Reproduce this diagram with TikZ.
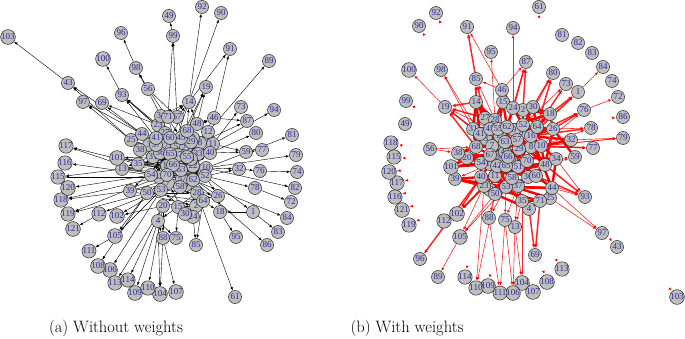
\documentclass[tikz,border=0pt]{standalone}
\usepackage{fontspec}
\newfontfamily\vtxfont{Liberation Serif}
\usetikzlibrary{arrows.meta,backgrounds}
\definecolor{vfill}{HTML}{BEBEBE}
\definecolor{vtext}{HTML}{2B2BA0}
\definecolor{wred}{HTML}{FF0000}
\tikzset{>=Latex,
  vtx/.style={circle,draw=black!85,line width=.5pt,fill=vfill,inner sep=0pt,
    minimum size=13pt,text=vtext,font=\vtxfont\fontsize{9}{9}\selectfont},
  arcA/.style={draw=black,line width=.4pt,-{Latex[length=3.5pt,width=2.6pt]}},
  arcB/.style={draw=wred,draw opacity=.85,line width=.6pt,-{Latex[length=3.5pt,width=2.8pt]}},
  heavyB/.style={arcB,line width=1.5pt,-{Latex[length=4pt,width=3.8pt]}},
  meshB/.style={draw=wred,line width=2.4pt},
  loopmark/.style={draw=wred,line width=.6pt,-{Latex[length=3pt,width=3pt]},shorten >=1pt},
  caption/.style={font=\fontsize{16.5}{19}\selectfont}}

\begin{document}
\begin{tikzpicture}[x=1pt,y=-1pt]
\path[use as bounding box] (0,0) rectangle (685,339);
% (a) unweighted graph
\foreach \n/\x/\y in {1/253/212, 2/196/206, 3/149/145, 4/158/221, 5/176/147, 6/186/185,
  7/168/183, 8/200/143, 9/193/138, 10/206/168, 11/213/144, 12/208/132, 13/122/169,
  14/189/102, 15/178/207, 16/167/166, 17/164/146, 18/220/212, 19/206/87, 20/163/206,
  21/186/148, 22/193/166, 23/158/125, 24/193/217, 25/131/140, 26/218/196, 27/165/133,
  28/197/193, 29/191/142, 30/185/214, 31/153/157, 32/239/169, 33/198/154, 34/161/116,
  35/138/164, 36/160/153, 37/156/145, 38/140/150, 39/130/191, 40/210/153, 41/156/138,
  42/159/177, 43/68/83, 44/142/134, 45/181/138, 46/214/118, 47/178/155, 48/197/124,
  49/169/16, 50/147/193, 51/191/159, 52/205/176, 53/161/190, 54/151/175, 55/187/157,
  56/148/89, 57/182/179, 58/180/187, 59/246/152, 60/170/138, 61/235/297, 62/193/180,
  63/181/170, 64/203/201, 65/170/154, 66/173/165, 67/177/117, 68/187/131, 69/102/103,
  70/167/175, 71/168/117, 72/291/202, 73/241/107, 74/297/172, 75/176/238, 76/260/171,
  77/262/150, 78/255/188, 79/296/155, 80/256/133, 81/292/135, 82/295/188, 83/278/232,
  84/287/218, 85/196/245, 86/267/245, 87/247/121, 88/163/238, 89/269/61, 90/221/13,
  91/230/49, 92/202/7, 93/122/95, 94/274/110, 95/236/237, 96/121/33, 97/83/102,
  98/136/68, 99/173/36, 100/103/59, 101/117/158, 102/117/216, 103/8/37, 104/160/294,
  105/115/236, 106/110/270, 107/176/292, 108/98/266, 109/135/293, 110/148/288,
  111/89/251, 112/99/214, 113/115/283, 114/128/280, 115/58/177, 116/65/163,
  117/66/146, 118/61/200, 119/68/214, 120/68/188, 121/73/229}
  \node[vtx] (a\n) at (\x,\y) {\n};
\begin{scope}[on background layer]
\foreach \s/\t in {44/43, 25/43, 43/103, 98/96, 93/100, 56/98, 34/98, 44/97, 25/97,
  23/69, 44/69, 41/93, 60/93, 27/93, 23/93, 99/49, 71/99, 67/99, 14/92, 14/90, 68/19,
  48/19, 45/19, 14/91, 46/91, 34/14, 67/14, 68/14, 48/14, 71/14, 12/89, 11/73, 46/87,
  8/87, 11/94, 40/80, 10/81, 68/46, 48/46, 40/59, 11/59, 59/77, 10/79, 52/32, 10/32,
  32/76, 76/74, 52/78, 10/82, 78/72, 62/84, 52/1, 1/83, 1/18, 26/18, 64/18, 18/95,
  62/86, 52/26, 28/61, 64/85, 24/85, 15/75, 4/75, 4/88, 20/88, 88/107, 88/104, 28/24,
  15/30, 54/117, 54/116, 42/115, 54/120, 70/118, 42/119, 53/112, 20/102, 53/105,
  31/101, 50/108, 53/106, 20/113, 20/114, 4/109, 20/110, 4/104, 105/111, 112/121,
  35/117, 13/115, 39/118, 50/119, 53/102, 50/105, 56/45, 56/67}
  \draw[arcA] (a\s) -- (a\t);
% dense core
\foreach \s/\t in {54/63, 54/10, 54/52, 54/62, 42/63, 42/10, 70/10, 70/52, 66/10, 16/40,
  65/11, 47/12, 55/8, 51/29, 22/10, 63/52, 57/62, 7/58, 53/28, 50/64, 39/2, 20/26,
  15/64, 35/63, 13/66, 101/16, 38/65, 25/47, 44/55, 23/45, 34/60, 71/5, 67/22, 41/51,
  27/57, 60/58, 45/7, 29/53, 8/54, 11/42, 12/70, 40/50, 48/36, 68/31, 46/63, 14/16,
  31/22, 36/10, 37/52, 3/62, 17/40, 21/54, 9/13, 33/35, 6/38, 5/39, 62/20, 58/26,
  28/4, 2/15, 24/53, 30/7, 64/57, 26/66, 52/31, 10/3, 13/52, 35/10, 38/40, 39/62,
  50/28, 101/63, 25/66, 44/11, 23/40, 41/10, 13/62, 25/10, 38/52, 44/40, 101/10,
  13/40, 35/52, 39/10, 50/52, 53/40, 14/54, 68/54, 48/42}
  \draw[arcA] (a\s) -- (a\t);
\end{scope}
\node[caption] (capA) at (116,328) {(a) Without weights};
% (b) weighted graph
\foreach \n/\x/\y in {1/578/92, 2/523/110, 3/486/139, 4/529/209, 5/521/133, 6/498/143,
  7/492/146, 8/531/147, 9/514/130, 10/541/146, 11/495/176, 12/490/164, 13/515/227,
  14/476/102, 15/503/102, 16/531/136, 17/500/136, 18/550/114, 19/445/107, 20/467/158,
  21/490/190, 22/512/162, 23/484/186, 24/513/108, 25/550/198, 26/553/129, 27/485/118,
  28/495/120, 29/519/149, 30/533/107, 31/473/129, 32/571/140, 33/500/157, 34/556/159,
  35/522/201, 36/528/177, 37/518/186, 38/458/153, 39/455/179, 40/481/177, 41/480/134,
  42/497/166, 43/617/247, 44/552/188, 45/490/129, 46/502/90, 47/505/152, 48/545/165,
  49/405/124, 50/495/194, 51/518/167, 52/523/125, 53/506/187, 54/481/163, 55/498/129,
  56/430/149, 57/517/140, 58/512/178, 59/575/157, 60/536/176, 61/539/7, 62/507/127,
  63/505/142, 64/537/127, 65/506/166, 66/508/157, 67/490/155, 68/476/147, 69/535/255,
  70/527/161, 71/540/201, 72/618/97, 73/566/84, 74/612/81, 75/505/220, 76/584/110,
  77/593/148, 78/591/128, 79/623/138, 80/553/73, 81/562/35, 82/578/43, 83/592/53,
  84/603/67, 85/476/79, 86/623/117, 87/526/62, 88/489/218, 89/438/277, 90/419/26,
  91/467/27, 92/436/13, 93/585/197, 94/513/28, 95/491/52, 96/420/259, 97/602/233,
  98/441/70, 99/406/101, 100/409/70, 101/451/167, 102/457/214, 103/677/297,
  104/522/283, 105/460/237, 106/513/293, 107/533/292, 108/547/282, 109/488/286,
  110/476/288, 111/500/293, 112/444/221, 113/562/269, 114/465/277, 115/394/157,
  116/395/197, 117/397/183, 118/391/143, 119/409/225, 120/389/172, 121/402/210}
  \node[vtx] (b\n) at (\x,\y) {\n};
\begin{scope}[on background layer]
\foreach \s/\t in {14/27, 14/31, 14/41, 14/45, 14/28, 15/28, 15/55, 15/62, 15/24, 24/52,
  24/62, 2/52, 2/64, 30/64, 30/52, 27/45, 28/55, 31/68, 41/68, 41/7, 45/63, 55/63,
  62/9, 9/52, 52/64, 52/16, 64/16, 64/26, 16/26, 16/32, 16/8, 63/57, 57/8, 57/29,
  8/48, 8/70, 29/70, 29/66, 66/47, 47/67, 67/68, 68/38, 38/20, 20/54, 54/12, 12/40,
  40/11, 11/42, 42/65, 65/51, 51/70, 70/36, 36/60, 60/48, 48/34, 34/44, 44/25, 25/71,
  71/35, 35/37, 37/53, 53/50, 50/23, 23/40, 11/53, 53/36, 36/37, 4/35, 4/71, 21/50,
  22/51, 33/66, 58/37, 3/63, 6/47, 7/67, 17/55, 5/57, 10/8, 10/48, 26/18, 18/64,
  30/18, 2/18, 24/30, 15/46, 46/24, 12/67, 54/40, 101/54, 101/20, 39/40, 39/23,
  68/10, 63/11, 31/60, 27/36, 45/53, 41/51, 54/8, 20/29, 38/70, 40/48, 23/44, 11/34,
  50/60, 53/44, 37/48, 65/8, 67/29, 12/36, 42/60, 21/37, 62/8, 28/29, 55/66, 9/70,
  52/57, 16/34, 26/48, 10/32, 64/10, 16/44, 26/59, 14/63, 31/52, 41/64, 27/16,
  68/26, 20/60, 54/48, 40/25, 23/71, 11/35, 50/4, 38/36, 20/10, 101/70, 39/53,
  12/53, 67/37, 47/44, 66/34, 28/10, 45/26, 55/64, 62/18, 57/48, 63/36, 7/51,
  17/22, 3/33, 6/58, 21/58, 42/21, 33/65, 5/9, 22/29}
  \draw[meshB] (b\s) -- (b\t);
\foreach \s/\t in {14/19, 41/19, 27/19, 68/19, 14/85, 27/85, 85/91, 2/87, 24/87, 64/80,
  30/80, 64/73, 18/1, 16/1, 26/76, 16/76, 48/93, 60/93, 4/69, 71/69, 40/96, 11/102,
  23/102, 40/102, 10/77, 16/78}
  \draw[heavyB] (b\s) -- (b\t);
\foreach \s/\t in {19/100, 31/98, 41/98, 46/91, 46/85, 28/95, 24/94, 46/87, 1/84, 76/72,
  26/78, 10/78, 32/79, 10/79, 8/77, 16/32, 34/59, 34/93, 44/93, 44/97, 25/97, 13/104,
  35/104, 13/106, 75/106, 75/111, 88/111, 23/110, 50/110, 105/89, 53/105, 50/105,
  23/105, 102/112, 50/88, 53/88, 53/75, 37/75, 37/13, 35/13, 68/101, 54/101, 40/39,
  12/39, 64/18, 56/38, 56/68, 38/20, 31/19, 45/19, 28/85, 63/87, 57/80, 52/73,
  10/76, 36/93, 48/59, 8/79}
  \draw[arcB] (b\s) -- (b\t);
% self loops show only as a tip
\foreach \n/\x/\y in {92/440/22, 90/424/35, 99/414/107, 118/400/145, 115/403/158,
  120/397/171, 117/405/181, 116/403/194, 121/410/207, 119/417/221, 61/539/17,
  86/612/118, 114/467/267, 109/490/276, 107/528/283, 108/544/273, 113/557/261,
  103/670/289, 43/610/239}
  {\coordinate (s\n) at (\x,\y);
   \draw[loopmark] (s\n) -- (b\n);}
\end{scope}
\node[caption] (capB) at (407,328) {(b) With weights};
\end{tikzpicture}
\end{document}
